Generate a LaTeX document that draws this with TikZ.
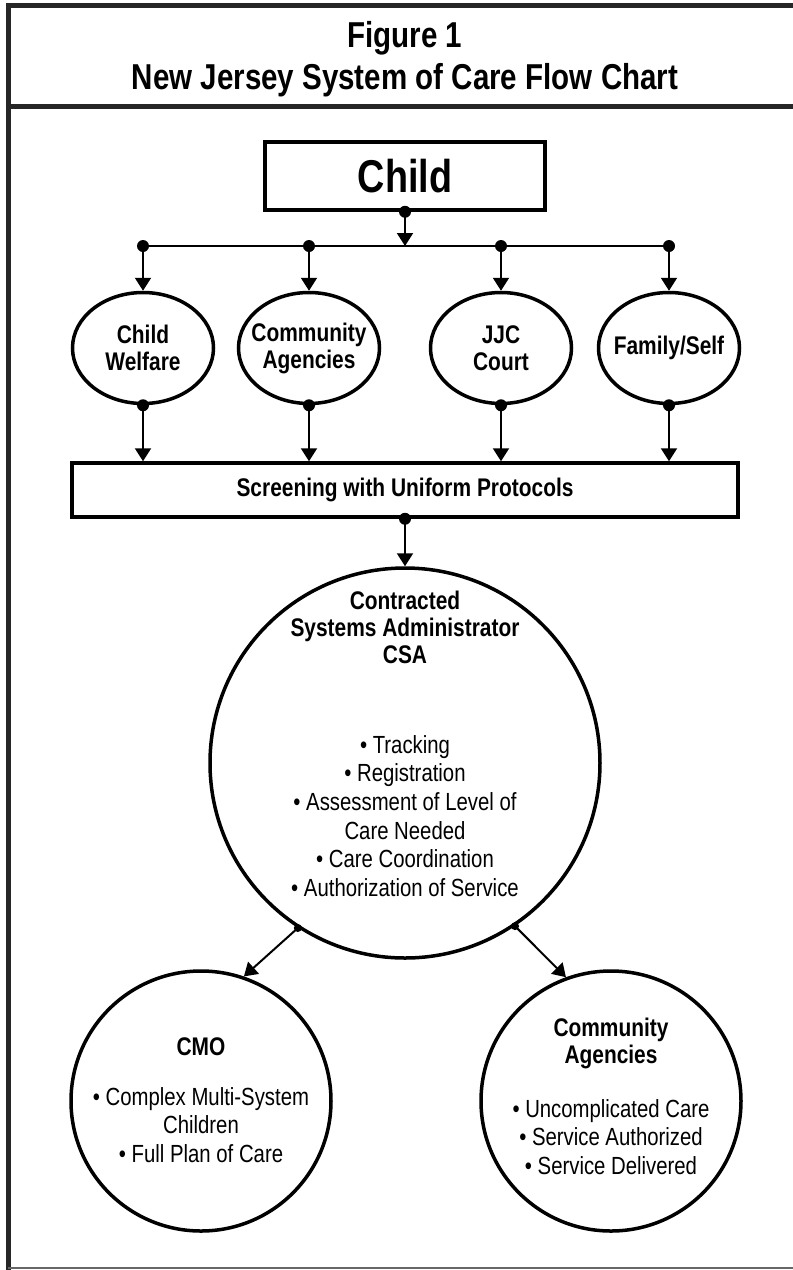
\documentclass[tikz,border=0pt]{standalone}
\usepackage{fontspec}
\setmainfont{Liberation Sans}[FakeStretch=0.82]
\usetikzlibrary{shapes.geometric,arrows.meta}

\tikzset{
    frameline/.style={line width=5pt, black!85},
    titletext/.style={font=\fontsize{36}{38}\selectfont\bfseries},
    childbox/.style={draw, line width=3.5pt, minimum width=280pt, minimum height=68pt,
        font=\fontsize{46}{50}\selectfont\bfseries},
    oval/.style={draw, ellipse, line width=3.5pt, minimum width=141pt, minimum height=111pt,
        inner sep=-20pt, align=center, font=\fontsize{25.5}{27}\selectfont\bfseries},
    screenbox/.style={draw, line width=3.5pt, minimum width=666pt, minimum height=54pt,
        font=\fontsize{25.5}{27}\selectfont\bfseries},
    ring/.style={draw, circle, line width=3.5pt, inner sep=0pt},
    headtext/.style={align=center, font=\fontsize{25.5}{27}\selectfont\bfseries},
    listtext/.style={align=center, font=\fontsize{24.8}{28.6}\selectfont},
    link/.style={line width=2pt, -{Triangle[width=16pt,length=13pt]}},
}

\begin{document}
\begin{tikzpicture}[x=1pt, y=-1pt]
    \useasboundingbox (0,0) rectangle (793,1270);
    % frame and title
    \draw[frameline] (8,1272) -- (8,5) -- (800,5);
    \draw[frameline] (8,106) -- (800,106);
    \draw[line width=2pt, black!60] (8,1268) -- (800,1268);
    \node[titletext] (fig) at (405,38) {Figure 1};
    \node[titletext] (title) at (405,80) {New Jersey System of Care Flow Chart};

    % child and the four entry points
    \node[childbox] (child) at (405,176) {Child};
    \coordinate (busc) at (405,246);
    \foreach \x [count=\i] in {143,309,501,669}
        \coordinate (bus\i) at (\x,246);
    \draw[line width=2pt] (bus1) -- (bus4);
    \draw[link] (child.south) -- (busc);
    \fill (child.south) circle (6pt);

    \node[oval] (src1) at (143,348) {Child\\Welfare};
    \node[oval] (src2) at (309,348) {Community\\Agencies};
    \node[oval] (src3) at (501,348) {JJC\\Court};
    \node[oval] (src4) at (669,348) {Family/Self};

    \node[screenbox] (screen) at (405,490) {Screening with Uniform Protocols};

    \foreach \i in {1,...,4} {
        \draw[link] (bus\i) -- (src\i.north);
        \draw[link] (src\i.south) -- (src\i.south |- screen.north);
        \fill (bus\i) circle (6pt);
        \fill (src\i.south) circle (6pt);
    }

    % CSA
    \node[ring, minimum size=390pt] (csa) at (405,763) {};
    \node[headtext] (csahead) at (405,627) {Contracted\\Systems Administrator\\CSA};
    \node[listtext] (csalist) at (405,816) {\textbullet~Tracking\\\textbullet~Registration\\
        \textbullet~Assessment of Level of\\Care Needed\\\textbullet~Care Coordination\\
        \textbullet~Authorization of Service};
    \draw[link] (screen.south) -- (csa.north);
    \fill (screen.south) circle (6pt);

    % CMO and community agencies
    \node[ring, minimum size=260pt] (cmo) at (201,1101) {};
    \node[headtext] (cmohead) at (201,1047) {CMO};
    \node[listtext] (cmolist) at (201,1125) {\textbullet~Complex Multi-System\\Children\\
        \textbullet~Full Plan of Care};
    \node[ring, minimum size=260pt] (agency) at (611,1101) {};
    \node[headtext] (agencyhead) at (611,1043) {Community\\Agencies};
    \node[listtext] (agencylist) at (611,1137) {\textbullet~Uncomplicated Care\\
        \textbullet~Service Authorized\\\textbullet~Service Delivered};

    \draw[link] (csa.237) -- (cmo.71);
    \draw[link] (csa.304) -- (agency.110);
    \fill (csa.237) circle (4pt);
    \fill (csa.304) circle (4pt);
\end{tikzpicture}
\end{document}
